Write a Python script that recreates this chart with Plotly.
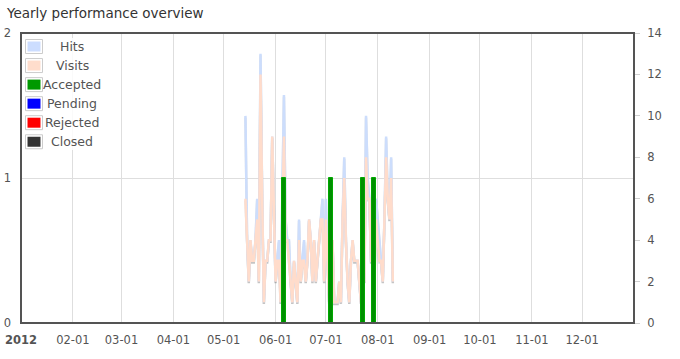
import plotly.graph_objects as go
import pandas as pd

# ---------------- data ----------------
start_date = "2012-05-14"
hits = [10, 4, 2, 4, 3, 3, 4, 6, 2, 13, 6, 1, 3, 3, 4, 4, 9, 5, 2, 3,
        4, 1, 6, 11, 5, 4, 4, 2, 1, 3, 2, 1, 5, 2, 3, 4, 2, 3, 5, 4,
        2, 4, 2, 3, 4, 5, 6, 2, 6, 3, 1, 3, 4, 1, 1, 1, 2, 1, 5, 8,
        4, 2, 1, 3, 4, 3, 3, 3, 2, 1, 4, 2, 10, 7, 6, 3, 3, 2, 6, 5,
        4, 3, 2, 5, 9, 6, 5, 8, 2]
visits = [6, 4, 2, 4, 3, 3, 4, 5, 2, 12, 6, 1, 3, 3, 4, 4, 9, 5, 2, 3,
          3, 1, 5, 9, 4, 4, 3, 2, 1, 3, 2, 1, 4, 2, 3, 3, 2, 3, 5, 4,
          2, 4, 2, 3, 4, 5, 5, 2, 5, 3, 1, 3, 4, 1, 1, 1, 2, 1, 5, 7,
          4, 2, 1, 3, 4, 3, 3, 3, 2, 1, 4, 2, 8, 6, 6, 3, 3, 2, 5, 4,
          3, 3, 2, 5, 8, 6, 5, 7, 2]
dates = pd.date_range(start_date, periods=len(hits), freq="D")

accepted_dates = ["2012-06-06", "2012-07-04", "2012-07-23", "2012-07-30"]
accepted_values = [1, 1, 1, 1]

month_ticks = ["2012-%02d-01" % m for m in range(1, 13)]
month_labels = ["<b>2012</b>", "02-01", "03-01", "04-01", "05-01", "06-01",
                "07-01", "08-01", "09-01", "10-01", "11-01", "12-01"]

right_ticks = [0, 2, 4, 6, 8, 10, 12, 14]
left_ticks = [0, 1, 2]

legend_names = ["Hits", "Visits", "Accepted", "Pending", "Rejected", "Closed"]
legend_colors = ["#ccddff", "#ffddcc", "#009900", "#0000ff", "#ff0000", "#333333"]

# ---------------- layout constants ----------------
W, H = 680, 359
ML, MR, MT, MB = 21, 46, 33, 36
PW, PH = W - ML - MR, H - MT - MB
FONT = "DejaVu Sans"
TXT = "#545454"


def px(x):
    return (x - ML) / PW


def py(y):
    return (H - MB - y) / PH


fig = go.Figure()

# shadows (drawn on shifted hidden axis)
for vals in (hits, visits):
    fig.add_trace(go.Scatter(x=dates, y=vals, mode="lines", yaxis="y",
                             line=dict(color="rgba(0,0,0,0.12)", width=2.5),
                             hoverinfo="skip", showlegend=False))

fig.add_trace(go.Scatter(x=dates, y=hits, mode="lines", name="Hits", yaxis="y2",
                         line=dict(color="#ccddfc", width=2.5), showlegend=False))
fig.add_trace(go.Scatter(x=dates, y=visits, mode="lines", name="Visits", yaxis="y2",
                         line=dict(color="#ffdccb", width=2.5), showlegend=False))
fig.add_trace(go.Bar(x=pd.to_datetime(accepted_dates), y=accepted_values, name="Accepted",
                     yaxis="y3", width=2.3 * 86400000,
                     marker=dict(color="#008f00", line=dict(color="#00a800", width=1)),
                     showlegend=False))

shift = 1.6 / PH * 14
fig.update_layout(
    width=W, height=H,
    margin=dict(l=ML, r=MR, t=MT, b=MB, pad=0, autoexpand=False),
    paper_bgcolor="white", plot_bgcolor="white",
    font=dict(family=FONT, color=TXT, size=11.5),
    showlegend=False,
    bargap=0,
    xaxis=dict(range=["2012-01-01", "2013-01-01"], tickmode="array",
               tickvals=month_ticks, ticktext=month_labels, automargin=False,
               showgrid=True, gridcolor="#dedede", gridwidth=1,
               zeroline=False, showline=False, ticks="", ticklabelstandoff=8,
               tickfont=dict(size=11.5, color=TXT)),
    yaxis=dict(range=[shift, 14 + shift], visible=False, showgrid=False,
               zeroline=False, automargin=False),
    yaxis2=dict(range=[0, 14], overlaying="y", side="right", tickmode="array",
                tickvals=right_ticks, ticks="outside", ticklen=5, tickcolor="#d0d0d0",
                showgrid=False, zeroline=False, showline=False, automargin=False,
                ticklabelstandoff=5, tickfont=dict(size=11.5, color=TXT)),
    yaxis3=dict(range=[0, 2], overlaying="y", side="left", tickmode="array",
                tickvals=left_ticks, ticks="", showgrid=True, gridcolor="#dedede",
                zeroline=False, showline=False, ticklabelstandoff=9, automargin=False,
                tickfont=dict(size=11.5, color=TXT)),
)

shapes = []
# plot border
shapes.append(dict(type="rect", xref="paper", yref="paper", x0=0, x1=1, y0=0, y1=1,
                   line=dict(color="#545454", width=2), fillcolor="rgba(0,0,0,0)", layer="above"))
# legend background
shapes.append(dict(type="rect", xref="paper", yref="paper", x0=px(22), x1=px(104),
                   y0=py(150), y1=py(38), line=dict(width=0),
                   fillcolor="rgba(255,255,255,0.85)", layer="above"))
annotations = []
row0, step = 46.5, 19.05
for i, (name, col) in enumerate(zip(legend_names, legend_colors)):
    yc = row0 + i * step
    shapes.append(dict(type="rect", xref="paper", yref="paper", x0=px(25.5), x1=px(42.5),
                       y0=py(yc + 7), y1=py(yc - 7), line=dict(color="#cccccc", width=1),
                       fillcolor="white", layer="above"))
    shapes.append(dict(type="rect", xref="paper", yref="paper", x0=px(27.5), x1=px(40.5),
                       y0=py(yc + 5), y1=py(yc - 5), line=dict(width=0),
                       fillcolor=col, layer="above"))
    annotations.append(dict(text=name, xref="paper", yref="paper", x=px(72), y=py(yc),
                            xanchor="center", yanchor="middle", showarrow=False,
                            font=dict(family=FONT, size=12.5, color=TXT)))

annotations.append(dict(text="Yearly performance overview", xref="paper", yref="paper",
                        x=px(4), y=py(13), xanchor="left", yanchor="middle", showarrow=False,
                        font=dict(family=FONT, size=13.5, color="#333333")))

fig.update_layout(shapes=shapes, annotations=annotations)
fig.write_html("out.html")
